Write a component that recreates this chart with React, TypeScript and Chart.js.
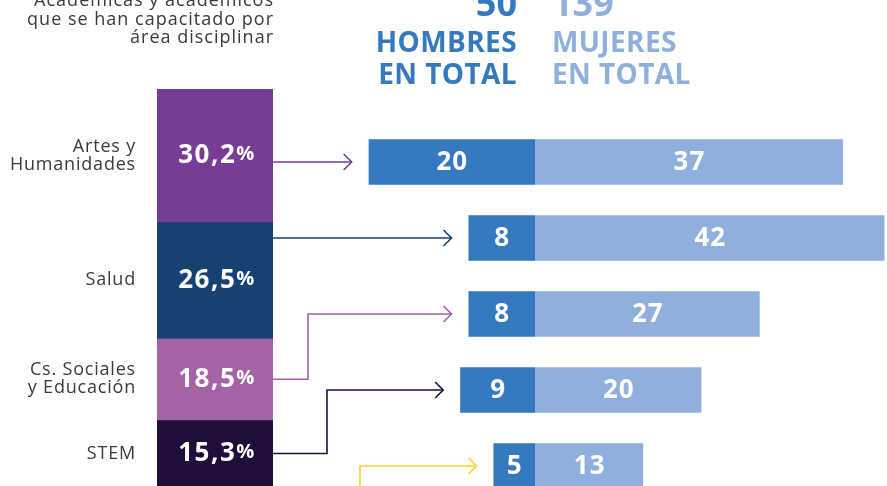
import React, { useEffect, useRef } from "react";
import { Chart, registerables } from "chart.js";

Chart.register(...registerables);

// ---- data ----
const areaLabels: string[][] = [["Artes y", "Humanidades"], ["Salud"], ["Cs. Sociales", "y Educación"], ["STEM"], [""]];
const areaShares = [30.2, 26.5, 18.5, 15.3, 9.5];
const areaShareText = ["30,2", "26,5", "18,5", "15,3", "9,5"];
const areaColors = ["#763C96", "#154272", "#A462A7", "#210D3B", "#F6D231"];
const rowLabels = ["Artes y Humanidades", "Salud", "Cs. Sociales y Educación", "STEM", "Otras"];
const menCounts = [20, 8, 8, 9, 5];
const womenCounts = [37, 42, 27, 20, 13];
const totalMen = "50";
const totalWomen = "139";
const headerLines = ["Académicas y académicos", "que se han capacitado por", "área disciplinar"];

// ---- styles ----
const MEN = "#3579BE";
const WOMEN = "#8FB0DC";
const FONT = "'Open Sans', sans-serif";
const TEXT = "#3a3a3a";
const bendX = [0, 0, 308, 327, 360];

export default function App() {
  const leftRef = useRef<HTMLCanvasElement | null>(null);
  const rightRef = useRef<HTMLCanvasElement | null>(null);

  useEffect(() => {
    const leftLabels = {
      id: "leftLabels",
      afterDatasetsDraw(chart: any) {
        const ctx = chart.ctx;
        ctx.save();
        chart.data.datasets.forEach((ds: any, i: number) => {
          const el = chart.getDatasetMeta(i).data[0] as any;
          const cy = (el.y + el.base) / 2;
          const cx = el.x;
          // value label
          ctx.fillStyle = "#fff";
          ctx.textBaseline = "middle";
          ctx.letterSpacing = "1.5px";
          ctx.font = `700 26px ${FONT}`;
          const num = areaShareText[i];
          const wNum = ctx.measureText(num).width;
          ctx.font = `700 20px ${FONT}`;
          const wPct = ctx.measureText("%").width;
          const x0 = cx - (wNum + wPct) / 2 + 2;
          ctx.textAlign = "left";
          ctx.font = `700 26px ${FONT}`;
          ctx.fillText(num, x0, cy);
          ctx.font = `700 20px ${FONT}`;
          ctx.fillText("%", x0 + wNum, cy - 1);
          // category label
          const lines = areaLabels[i];
          ctx.fillStyle = TEXT;
          ctx.letterSpacing = "0.8px";
          ctx.font = `400 18px ${FONT}`;
          ctx.textAlign = "right";
          const lh = 18;
          lines.forEach((t, k) => {
            ctx.fillText(t, chart.chartArea.left - 21, cy + (k - (lines.length - 1) / 2) * lh);
          });
        });
        ctx.restore();
      },
    };

    const left = new Chart(leftRef.current!, {
      type: "bar",
      data: {
        labels: ["Áreas"],
        datasets: areaShares.map((v, i) => ({
          label: areaLabels[i].join(" "),
          data: [v],
          backgroundColor: areaColors[i],
          borderWidth: 0,
          categoryPercentage: 1,
          barPercentage: 1,
        })),
      },
      options: {
        animation: false,
        responsive: false,
        layout: { padding: { left: 157, right: 27, top: 89, bottom: 71 } },
        plugins: { legend: { display: false }, tooltip: { enabled: false } },
        scales: {
          x: { stacked: true, display: false },
          y: { stacked: true, display: false, reverse: true, min: 0, max: 100 },
        },
      },
      plugins: [leftLabels],
    });

    const arrows = {
      id: "arrowsAndLabels",
      afterDatasetsDraw(chart: any) {
        const ctx = chart.ctx;
        ctx.save();
        // bar value labels
        ctx.fillStyle = "#fff";
        ctx.letterSpacing = "1px";
        ctx.font = `700 26px ${FONT}`;
        ctx.textAlign = "center";
        ctx.textBaseline = "middle";
        chart.data.datasets.forEach((ds: any, d: number) => {
          chart.getDatasetMeta(d).data.forEach((el: any, i: number) => {
            const cx = (el.x + el.base) / 2;
            ctx.fillText(String(Math.abs(ds.data[i])), cx + 0.5, el.y + 1);
          });
        });
        ctx.letterSpacing = "0px";
        // arrows
        const menMeta = chart.getDatasetMeta(0).data;
        menMeta.forEach((el: any, i: number) => {
          const seg = left.getDatasetMeta(i).data[0] as any;
          const top = Math.min(seg.y, seg.base);
          const bot = Math.max(seg.y, seg.base);
          const startX = seg.x + seg.width / 2;
          const rowY = el.y;
          const endX = Math.min(el.x, el.base) - 17;
          ctx.strokeStyle = areaColors[i];
          ctx.lineWidth = 1.6;
          ctx.beginPath();
          if (rowY >= top && rowY <= bot) {
            ctx.moveTo(startX, rowY);
          } else {
            const sy = (top + bot) / 2;
            ctx.moveTo(startX, sy);
            ctx.lineTo(bendX[i], sy);
            ctx.lineTo(bendX[i], rowY);
          }
          ctx.lineTo(endX, rowY);
          ctx.stroke();
          ctx.beginPath();
          ctx.moveTo(endX - 8, rowY - 8);
          ctx.lineTo(endX, rowY);
          ctx.lineTo(endX - 8, rowY + 8);
          ctx.stroke();
        });
        ctx.restore();
      },
    };

    const right = new Chart(rightRef.current!, {
      type: "bar",
      data: {
        labels: rowLabels,
        datasets: [
          {
            label: "Hombres",
            data: menCounts.map((v) => -v),
            backgroundColor: MEN,
            borderWidth: 0,
            categoryPercentage: 1,
            barPercentage: 0.6,
          },
          {
            label: "Mujeres",
            data: womenCounts,
            backgroundColor: WOMEN,
            borderWidth: 0,
            categoryPercentage: 1,
            barPercentage: 0.6,
          },
        ],
      },
      options: {
        indexAxis: "y",
        animation: false,
        responsive: false,
        layout: { padding: { left: 352, right: 0, top: 124, bottom: 96 } },
        plugins: { legend: { display: false }, tooltip: { enabled: false } },
        scales: {
          x: { stacked: true, display: false, min: -22, max: 42.3 },
          y: { stacked: true, display: false },
        },
      },
      plugins: [arrows],
    });

    return () => {
      right.destroy();
      left.destroy();
    };
  }, []);

  const abs = (o: React.CSSProperties): React.CSSProperties => ({ position: "absolute", margin: 0, whiteSpace: "nowrap", ...o });
  const big = (baseline: number, size: number) => baseline - 0.888 * size;

  return (
    <div style={{ position: "absolute", left: 0, top: 0, width: 887, height: 486, overflow: "hidden", background: "#fff", fontFamily: FONT }}>
      <canvas ref={rightRef} width={887} height={600} style={{ position: "absolute", left: 0, top: 0 }} />
      <canvas ref={leftRef} width={300} height={600} style={{ position: "absolute", left: 0, top: 0 }} />
      {headerLines.map((t, i) => (
        <div key={i} style={abs({ left: 0, width: 274, textAlign: "right", top: big(6 + i * 18.5, 18), fontSize: 18, lineHeight: "18px", letterSpacing: "1px", color: TEXT })}>
          {t}
        </div>
      ))}
      <div style={abs({ left: 300, width: 217, textAlign: "right", top: big(17, 36), fontSize: 36, lineHeight: "36px", fontWeight: 700, color: MEN })}>{totalMen}</div>
      <div style={abs({ left: 300, width: 217, textAlign: "right", top: big(52, 28), fontSize: 28, lineHeight: "28px", fontWeight: 700, letterSpacing: "0.4px", color: MEN })}>HOMBRES</div>
      <div style={abs({ left: 300, width: 217, textAlign: "right", top: big(84, 28), fontSize: 28, lineHeight: "28px", fontWeight: 700, letterSpacing: "0.4px", color: MEN })}>EN TOTAL</div>
      <div style={abs({ left: 552, top: big(17, 36), fontSize: 36, lineHeight: "36px", fontWeight: 700, color: WOMEN })}>{totalWomen}</div>
      <div style={abs({ left: 552, top: big(52, 28), fontSize: 28, lineHeight: "28px", fontWeight: 700, letterSpacing: "0.4px", color: WOMEN })}>MUJERES</div>
      <div style={abs({ left: 552, top: big(84, 28), fontSize: 28, lineHeight: "28px", fontWeight: 700, letterSpacing: "0.4px", color: WOMEN })}>EN TOTAL</div>
    </div>
  );
}
